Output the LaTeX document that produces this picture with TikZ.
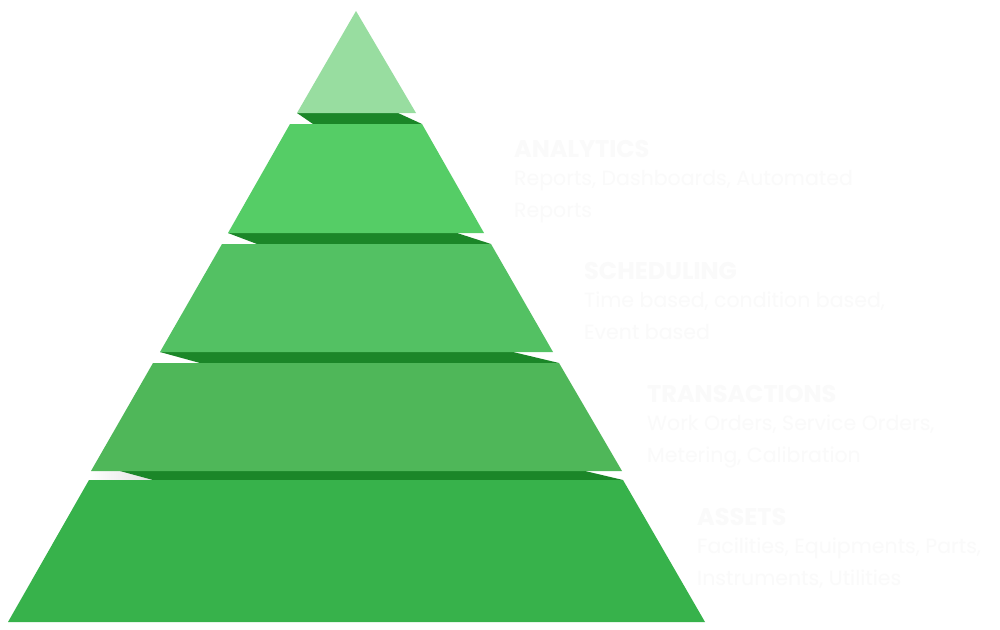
\documentclass[tikz,border=0pt]{standalone}
\usepackage{fontspec}
\setmainfont{Poppins}
\definecolor{tipgreen}{RGB}{152,221,160}
\definecolor{greenA}{RGB}{85,205,102}
\definecolor{greenB}{RGB}{83,193,99}
\definecolor{greenC}{RGB}{79,183,89}
\definecolor{greenD}{RGB}{55,178,75}
\definecolor{foldgreen}{RGB}{27,134,40}
\definecolor{paletext}{RGB}{250,250,250}
\begin{document}
\begin{tikzpicture}[x=1pt, y=-1pt,
    head/.style={anchor=base west, inner sep=0pt, text=paletext, font=\fontsize{24}{28}\selectfont\bfseries},
    body/.style={anchor=base west, inner sep=0pt, text=paletext, align=left, font=\fontsize{20.5}{32}\selectfont}]
    \useasboundingbox (0, 0) rectangle (1000, 629);
    \fill[white] (0, 0) rectangle (1000, 629);
    \fill[foldgreen] (297, 113) -- (398, 113) -- (422, 124) -- (313, 124) -- cycle;
    \fill[foldgreen] (228, 233) -- (457, 233) -- (491, 244) -- (257, 244) -- cycle;
    \fill[foldgreen] (160, 352) -- (513, 352) -- (559, 363) -- (200, 363) -- cycle;
    \shade[left color=white, right color=black!12] (91, 471) -- (120, 471) -- (153, 480) -- (89, 480) -- cycle;
    \fill[foldgreen] (120, 471) -- (585, 471) -- (623, 480) -- (153, 480) -- cycle;
    \fill[tipgreen] (356, 11) -- (416, 113) -- (297, 113) -- cycle;
    \fill[greenA] (290, 124) -- (422, 124) -- (484, 233) -- (228, 233) -- cycle;
    \fill[greenB] (222, 244) -- (491, 244) -- (553, 352) -- (160, 352) -- cycle;
    \fill[greenC] (153, 363) -- (559, 363) -- (622, 471) -- (91, 471) -- cycle;
    \fill[greenD] (89, 480) -- (623, 480) -- (705, 622) -- (8, 622) -- cycle;
    \node[head] (analytics) at (514, 157) {ANALYTICS};
    \node[body] (analytics-txt) at ([yshift=-60pt]analytics.base west) {Reports, Dashboards, Automated\\Reports};
    \node[head] (scheduling) at (584, 279) {SCHEDULING};
    \node[body] (scheduling-txt) at ([yshift=-60pt]scheduling.base west) {Time based, condition based,\\Event based};
    \node[head] (transactions) at (647, 402) {TRANSACTIONS};
    \node[body] (transactions-txt) at ([yshift=-60pt]transactions.base west) {Work Orders, Service Orders,\\Metering, Calibration};
    \node[head] (assets) at (697, 525) {ASSETS};
    \node[body] (assets-txt) at ([yshift=-60pt]assets.base west) {Facilities, Equipments, Parts,\\Instruments, Utilities};
\end{tikzpicture}
\end{document}
